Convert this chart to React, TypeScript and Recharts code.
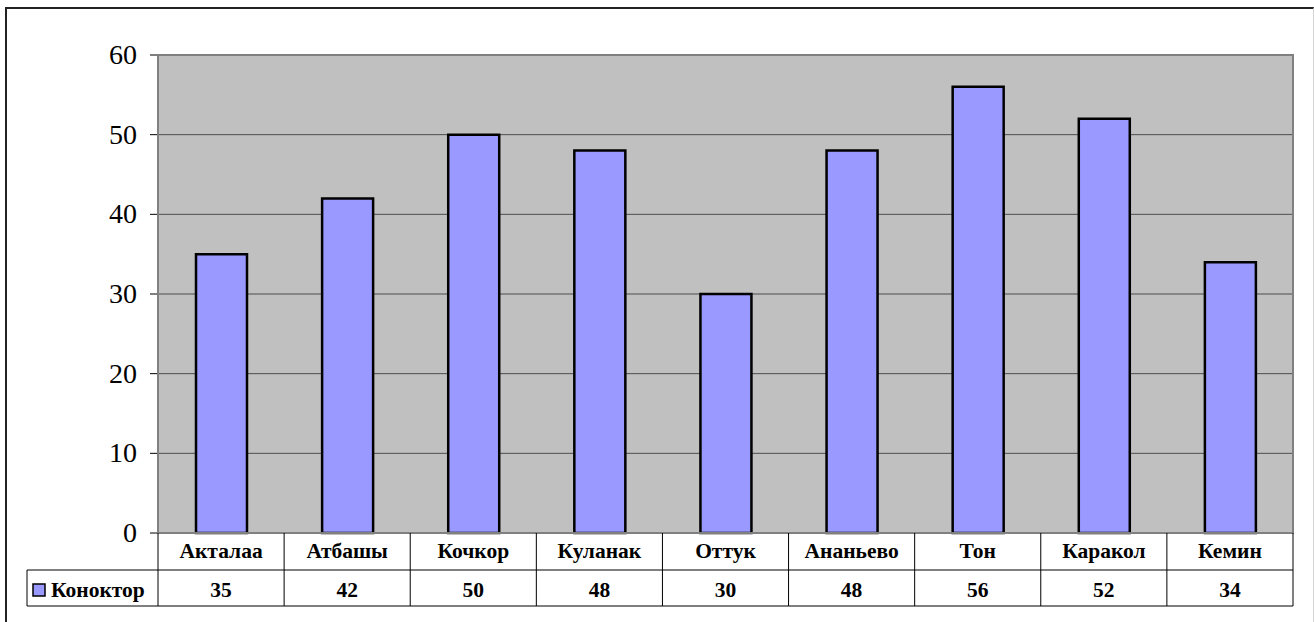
import { BarChart, Bar, XAxis, YAxis, CartesianGrid } from "recharts"

const categories = ["Акталаа", "Атбашы", "Кочкор", "Куланак", "Оттук", "Ананьево", "Тон", "Каракол", "Кемин"]
const values = [35, 42, 50, 48, 30, 48, 56, 52, 34]
const yTicks = [0, 10, 20, 30, 40, 50, 60]
const seriesName = "Коноктор"

const data = categories.map((name, i) => ({ name, value: values[i] }))

// layout of the plot and the data table under it
const plotLeft = 158
const plotRight = 1293
const plotTop = 55
const tableTop = 533
const rowMid = 570
const tableBottom = 606
const legendLeft = 27
const band = (plotRight - plotLeft) / categories.length

const serif = "Liberation Serif, Times New Roman, serif"
const cellText = { fontFamily: serif, fontWeight: "bold" as const, fontSize: 21.5 }

function TableTick(props: any) {
  const { x, index, payload } = props
  return (
    <g>
      {index === 0 && (
        <g>
          <rect x={plotLeft} y={plotTop} width={plotRight - plotLeft} height={tableTop - plotTop} fill="none" stroke="#808080" strokeWidth={2} />
          <line x1={x - band / 2} x2={x - band / 2} y1={tableTop} y2={tableBottom} stroke="#000" />
          <line x1={legendLeft} x2={plotRight} y1={rowMid} y2={rowMid} stroke="#000" />
          <line x1={legendLeft} x2={plotRight} y1={tableBottom} y2={tableBottom} stroke="#000" />
          <line x1={legendLeft} x2={legendLeft} y1={rowMid} y2={tableBottom} stroke="#000" />
          <rect x={33} y={584} width={12} height={12} fill="#9999FF" stroke="#000" strokeWidth={1.5} />
          <text x={51} y={597} style={cellText} fill="#000">{seriesName}</text>
        </g>
      )}
      <line x1={x + band / 2} x2={x + band / 2} y1={tableTop} y2={tableBottom} stroke="#000" />
      <text x={x} y={tableTop + 25} textAnchor="middle" style={cellText} fill="#000">
        {payload.value}
      </text>
      <text x={x} y={rowMid + 27} textAnchor="middle" style={cellText} fill="#000">
        {values[index]}
      </text>
    </g>
  )
}

function ValueTick(props: any) {
  const { x, y, payload } = props
  return (
    <text x={x} y={y + 9} textAnchor="end" style={{ fontFamily: serif, fontSize: 28 }} fill="#000">
      {payload.value}
    </text>
  )
}

export default function App() {
  return (
    <div style={{ position: "relative", width: 1314, height: 622, overflow: "hidden", background: "#fff" }}>
      <style>{`body{margin:0}`}</style>
      <div
        style={{
          position: "absolute",
          left: 5,
          top: 7,
          width: 1306,
          height: 700,
          borderLeft: "2px solid #222",
          borderTop: "2px solid #222",
          borderRight: "1px solid #d4d4d4",
        }}
      />
      <div style={{ position: "absolute", left: 0, top: 0 }}>
        <BarChart
          width={1314}
          height={622}
          data={data}
          margin={{ top: plotTop, right: 1314 - plotRight, bottom: 622 - tableBottom, left: plotLeft - 70 }}
        >
          <CartesianGrid vertical={false} fill="#C0C0C0" stroke="#4d4d4d" />
          <XAxis
            dataKey="name"
            height={tableBottom - tableTop}
            axisLine={{ stroke: "#000" }}
            tickLine={false}
            interval={0}
            tick={<TableTick />}
          />
          <YAxis
            width={70}
            domain={[0, 60]}
            ticks={yTicks}
            tickSize={8}
            tickMargin={13}
            axisLine={{ stroke: "#000" }}
            tickLine={{ stroke: "#000" }}
            tick={<ValueTick />}
          />
          <Bar dataKey="value" fill="#9999FF" stroke="#000" strokeWidth={2.5} barSize={51} isAnimationActive={false} />
        </BarChart>
      </div>
    </div>
  )
}
